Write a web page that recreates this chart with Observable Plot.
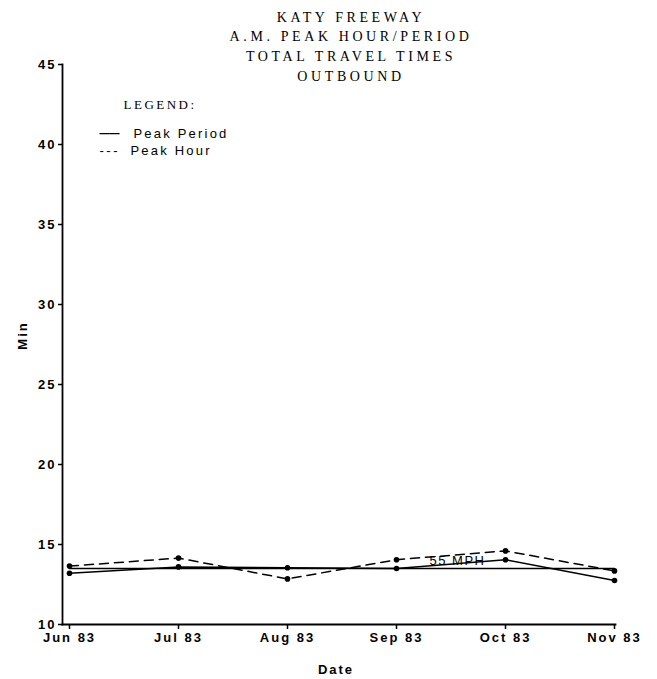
<!DOCTYPE html>
<html>
<head>
<meta charset="utf-8">
<script src="https://cdn.jsdelivr.net/npm/d3@7"></script>
<script src="https://cdn.jsdelivr.net/npm/@observablehq/plot@0.6"></script>
<style>
  body { margin: 0; background: #fff; }
  #chart svg { display: block; }
  g[aria-label="x-axis tick label"] text,
  g[aria-label="y-axis tick label"] text { letter-spacing: 2px; }
</style>
</head>
<body>
<div id="chart"></div>
<script>
// ---- data ----
const months = ["Jun 83", "Jul 83", "Aug 83", "Sep 83", "Oct 83", "Nov 83"];
const peakPeriod = [13.2, 13.6, 13.55, 13.5, 14.05, 12.75];
const peakHour = [13.65, 14.15, 12.85, 14.05, 14.6, 13.35];
const speedLimitMinutes = 13.5;
const speedLimitLabel = "55 MPH";
const yTicks = [10, 15, 20, 25, 30, 35, 40, 45];
const titleLines = ["KATY FREEWAY", "A.M. PEAK HOUR/PERIOD", "TOTAL TRAVEL TIMES", "OUTBOUND"];
const legendTitle = "LEGEND:";
const seriesNames = ["Peak Period", "Peak Hour"];
const xLabel = "Date";
const yLabel = "Min";

// ---- tables built from the arrays ----
const periodRows = months.map((m, i) => ({month: m, value: peakPeriod[i]}));
const hourRows = months.map((m, i) => ({month: m, value: peakHour[i]}));
const limitRows = [months[0], months[months.length - 1]].map(m => ({month: m, value: speedLimitMinutes}));
const limitLabelRow = [{month: months[3], value: speedLimitMinutes}];

const sans = "'Liberation Sans', Arial, sans-serif";
const serif = "'Liberation Serif', 'Times New Roman', serif";

// letter spacing for each Plot.text mark, in mark order
const textSpacing = [];
function txt(data, opts, spacing) {
  textSpacing.push(spacing);
  return Plot.text(data, opts);
}

const chart = Plot.plot({
  width: 657,
  height: 679,
  marginLeft: 62,
  marginRight: 42,
  marginTop: 64,
  marginBottom: 55,
  style: {background: "#fff", color: "#000", fontFamily: sans},
  x: {type: "point", domain: months, padding: 0, insetLeft: 5, label: null},
  y: {domain: [10, 45], label: null},
  marks: [
    Plot.frame({anchor: "left", strokeWidth: 1.8}),
    Plot.frame({anchor: "bottom", strokeWidth: 1.8}),
    Plot.axisY({ticks: yTicks, tickSize: 4, tickPadding: 2, strokeWidth: 1.5,
      fontSize: 13, fontWeight: "bold", label: null}),
    Plot.axisX({tickSize: 5, tickPadding: 3, strokeWidth: 1.5,
      fontSize: 13, fontWeight: "bold", label: null}),
    // 55 MPH reference
    Plot.line(limitRows, {x: "month", y: "value", stroke: "#000", strokeWidth: 1.4}),
    // series
    Plot.line(periodRows, {x: "month", y: "value", stroke: "#000", strokeWidth: 1.5}),
    Plot.line(hourRows, {x: "month", y: "value", stroke: "#000", strokeWidth: 1.5, strokeDasharray: "9,6"}),
    Plot.dot(periodRows, {x: "month", y: "value", r: 2.8, fill: "#000"}),
    Plot.dot(hourRows, {x: "month", y: "value", r: 2.8, fill: "#000"}),
    txt(limitLabelRow, {x: "month", y: "value", text: () => speedLimitLabel, dx: 61, dy: -8,
      fontSize: 13, fontFamily: sans, textAnchor: "middle", lineAnchor: "middle"}, "1.5px"),
    // title
    txt([titleLines.join("\n")], {frameAnchor: "top", dx: 12, dy: -19.5, lineHeight: 1.41,
      fontSize: 14, fontFamily: serif, textAnchor: "middle", lineAnchor: "middle"}, "3.6px"),
    // legend
    txt([legendTitle], {frameAnchor: "top-left", dx: 61, dy: 40, fontSize: 13, fontFamily: serif,
      textAnchor: "start", lineAnchor: "middle"}, "2.5px"),
    txt(["\u2014\u2014"], {frameAnchor: "top-left", dx: 37, dy: 69, fontSize: 10, fontWeight: "bold",
      fontFamily: sans, textAnchor: "start", lineAnchor: "middle"}, "0px"),
    txt(["---"], {frameAnchor: "top-left", dx: 37, dy: 86, fontSize: 13, fontFamily: sans,
      textAnchor: "start", lineAnchor: "middle"}, "2.5px"),
    txt([seriesNames[0]], {frameAnchor: "top-left", dx: 71, dy: 69, fontSize: 13, fontFamily: sans,
      textAnchor: "start", lineAnchor: "middle"}, "2.2px"),
    txt([seriesNames[1]], {frameAnchor: "top-left", dx: 68, dy: 86, fontSize: 13, fontFamily: sans,
      textAnchor: "start", lineAnchor: "middle"}, "2.2px"),
    // axis titles
    txt([xLabel], {frameAnchor: "bottom", dx: -3, dy: 45, fontSize: 13, fontWeight: "bold",
      fontFamily: sans, textAnchor: "middle", lineAnchor: "middle"}, "2px"),
    txt([yLabel], {frameAnchor: "left", dx: -40, dy: -9, rotate: -90, fontSize: 13, fontWeight: "bold",
      fontFamily: sans, textAnchor: "middle", lineAnchor: "middle"}, "2px")
  ]
});

d3.select(chart).selectAll('g[aria-label="text"]').each(function(_, i) {
  if (textSpacing[i] != null) d3.select(this).style("letter-spacing", textSpacing[i]);
});

document.getElementById("chart").appendChild(chart);
</script>
</body>
</html>
